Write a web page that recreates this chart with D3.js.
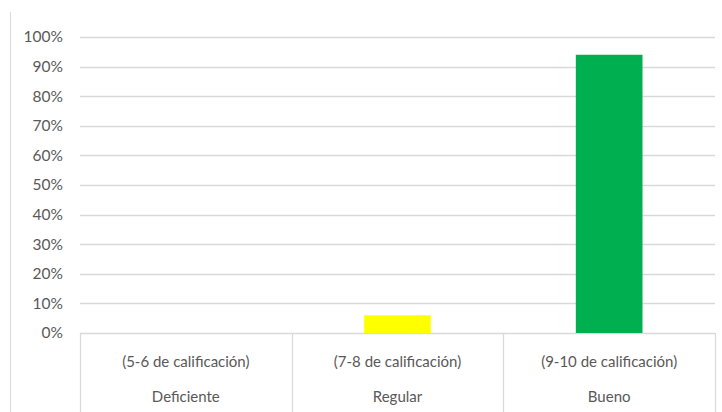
<!DOCTYPE html>
<html>
<head>
<meta charset="utf-8">
<script src="https://cdn.jsdelivr.net/npm/d3@7"></script>
<style>
  body { margin: 0; background: #fff; }
  text { font-family: Lato, "Open Sans", sans-serif; fill: #595959; }
</style>
</head>
<body>
<svg id="chart" width="722" height="412"></svg>
<script>
// chart data
const rangos = ["(5-6 de calificación)", "(7-8 de calificación)", "(9-10 de calificación)"];
const niveles = ["Deficiente", "Regular", "Bueno"];
const valores = [0, 6, 94];
const colores = ["#a5a5a5", "#ffff00", "#00b050"];
const yTicks = [0, 10, 20, 30, 40, 50, 60, 70, 80, 90, 100];

const svg = d3.select("#chart");
const margin = { top: 37, right: 7, bottom: 79, left: 80 };
const width = 722 - margin.left - margin.right;
const height = 412 - margin.top - margin.bottom;

// outer frame line on the left
svg.append("line")
	.attr("x1", 10.5).attr("x2", 10.5)
	.attr("y1", 12).attr("y2", 412)
	.attr("stroke", "#d9d9d9");

const g = svg.append("g")
	.attr("transform", "translate(" + margin.left + "," + margin.top + ")");

const x = d3.scaleBand().domain(d3.range(rangos.length)).range([0, width]);
const y = d3.scaleLinear().domain([0, 100]).range([296, 0]);

// gridlines
g.selectAll(".grid")
	.data(yTicks)
	.enter()
	.append("line")
	.attr("x1", 0).attr("x2", width)
	.attr("y1", (d) => Math.round(y(d)) + 0.5)
	.attr("y2", (d) => Math.round(y(d)) + 0.5)
	.attr("stroke", "#d9d9d9")
	.attr("stroke-width", 1.3);

// y tick labels
g.selectAll(".ytick")
	.data(yTicks)
	.enter()
	.append("text")
	.attr("x", -17)
	.attr("y", (d) => y(d))
	.attr("dy", "0.35em")
	.attr("text-anchor", "end")
	.attr("font-size", "15.5px")
	.text((d) => d + "%");

// bars
const barW = x.bandwidth() * 0.315;
g.selectAll(".bar")
	.data(valores)
	.enter()
	.append("rect")
	.attr("class", "bar")
	.attr("x", (d, i) => x(i) + (x.bandwidth() - barW) / 2)
	.attr("y", (d) => y(d))
	.attr("width", barW)
	.attr("height", (d) => y(0) - y(d))
	.attr("fill", (d, i) => colores[i]);

// category dividers
const bounds = d3.range(rangos.length + 1).map((i) => i * x.bandwidth());
g.selectAll(".div")
	.data(bounds)
	.enter()
	.append("line")
	.attr("x1", (d) => Math.round(d) + 0.5)
	.attr("x2", (d) => Math.round(d) + 0.5)
	.attr("y1", y(0))
	.attr("y2", 412 - margin.top)
	.attr("stroke", "#d9d9d9")
	.attr("stroke-width", 1.3);

// category labels, two levels
g.selectAll(".rango")
	.data(rangos)
	.enter()
	.append("text")
	.attr("x", (d, i) => x(i) + x.bandwidth() / 2)
	.attr("y", y(0) + 29)
	.attr("dy", "0.35em")
	.attr("text-anchor", "middle")
	.attr("font-size", "15px")
	.text((d) => d);

g.selectAll(".nivel")
	.data(niveles)
	.enter()
	.append("text")
	.attr("x", (d, i) => x(i) + x.bandwidth() / 2)
	.attr("y", y(0) + 64)
	.attr("dy", "0.35em")
	.attr("text-anchor", "middle")
	.attr("font-size", "15px")
	.text((d) => d);
</script>
</body>
</html>
